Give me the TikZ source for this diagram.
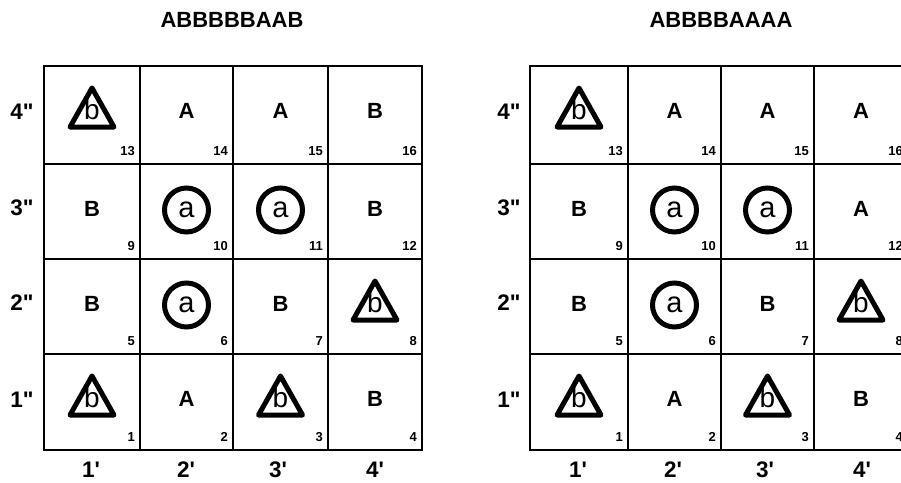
\documentclass[tikz,border=0pt]{standalone}
\usepackage{fontspec}
\setmainfont{Liberation Sans}[Ligatures=TeXOff]
\tikzset{
  gridline/.style={line width=1.3pt},
  letter/.style={font=\bfseries\fontsize{22}{22}\selectfont, inner sep=0pt},
  cnum/.style={font=\bfseries\fontsize{13}{13}\selectfont, anchor=east, inner sep=0pt},
  axislbl/.style={font=\bfseries\fontsize{22.5}{22.5}\selectfont, inner sep=0pt},
  ttl/.style={font=\bfseries\fontsize{22}{22}\selectfont, inner sep=0pt},
  ring/.style={circle, draw, line width=5pt, minimum size=44pt, inner sep=0pt, font=\fontsize{29}{29}\selectfont},
  tri/.style={line width=5pt, line join=round},
  tletter/.style={font=\fontsize{28}{28}\selectfont, inner sep=0pt},
}
% #1 name, #2 cx, #3 top, #4 right, #5 bottom, #6 content, #7 number
\newcommand\lcell[7]{%
  \node[letter] (#1) at (#2,#3+45) {#6};
  \node[cnum] (#1n) at (#4-5,#5-13) {#7};}
\newcommand\rcell[7]{%
  \node[ring] (#1) at (#2,#3+46) {#6};
  \node[cnum] (#1n) at (#4-5,#5-13) {#7};}
\newcommand\tcell[7]{%
  \node[tletter] (#1) at (#2,#3+43) {#6};
  \draw[tri] (#2,#3+22) -- (#2+22,#3+61) -- (#2-22,#3+61) -- cycle;
  \node[cnum] (#1n) at (#4-5,#5-13) {#7};}
\begin{document}
\begin{tikzpicture}[x=1pt,y=-1pt]
\useasboundingbox (0,0) rectangle (901,482);
\clip (0,0) rectangle (901,482);
% titles
\node[ttl] (t1) at (232,20) {ABBBBBAAB};
\node[ttl] (t2) at (721,20) {ABBBBAAAA};
% ---------- left grid ----------
\draw[gridline] (44,66) rectangle (422,450);
\foreach \xx in {140,233,328} \draw[gridline] (\xx,66) -- (\xx,450);
\foreach \yy in {164,259,354} \draw[gridline] (44,\yy) -- (422,\yy);
% row 4''
\tcell{L13}{92}{66}{140}{164}{b}{13}
\lcell{L14}{186.5}{66}{233}{164}{A}{14}
\lcell{L15}{280.5}{66}{328}{164}{A}{15}
\lcell{L16}{375}{66}{422}{164}{B}{16}
% row 3''
\lcell{L9}{92}{164}{140}{259}{B}{9}
\rcell{L10}{186.5}{164}{233}{259}{a}{10}
\rcell{L11}{280.5}{164}{328}{259}{a}{11}
\lcell{L12}{375}{164}{422}{259}{B}{12}
% row 2''
\lcell{L5}{92}{259}{140}{354}{B}{5}
\rcell{L6}{186.5}{259}{233}{354}{a}{6}
\lcell{L7}{280.5}{259}{328}{354}{B}{7}
\tcell{L8}{375}{259}{422}{354}{b}{8}
% row 1''
\tcell{L1}{92}{354}{140}{450}{b}{1}
\lcell{L2}{186.5}{354}{233}{450}{A}{2}
\tcell{L3}{280.5}{354}{328}{450}{b}{3}
\lcell{L4}{375}{354}{422}{450}{B}{4}
% axis labels
\node[axislbl] (lr4) at (22,112) {4"};
\node[axislbl] (lr3) at (22,208) {3"};
\node[axislbl] (lr2) at (22,303) {2"};
\node[axislbl] (lr1) at (22,400) {1"};
\node[axislbl] (lc1) at (91,470) {1'};
\node[axislbl] (lc2) at (186,470) {2'};
\node[axislbl] (lc3) at (278,470) {3'};
\node[axislbl] (lc4) at (375,470) {4'};
% ---------- right grid ----------
\draw[gridline] (530,66) rectangle (908,450);
\foreach \xx in {628,721,814} \draw[gridline] (\xx,66) -- (\xx,450);
\foreach \yy in {164,259,354} \draw[gridline] (530,\yy) -- (908,\yy);
% row 4''
\tcell{R13}{579}{66}{628}{164}{b}{13}
\lcell{R14}{674.5}{66}{721}{164}{A}{14}
\lcell{R15}{767.5}{66}{814}{164}{A}{15}
\lcell{R16}{861}{66}{908}{164}{A}{16}
% row 3''
\lcell{R9}{579}{164}{628}{259}{B}{9}
\rcell{R10}{674.5}{164}{721}{259}{a}{10}
\rcell{R11}{767.5}{164}{814}{259}{a}{11}
\lcell{R12}{861}{164}{908}{259}{A}{12}
% row 2''
\lcell{R5}{579}{259}{628}{354}{B}{5}
\rcell{R6}{674.5}{259}{721}{354}{a}{6}
\lcell{R7}{767.5}{259}{814}{354}{B}{7}
\tcell{R8}{861}{259}{908}{354}{b}{8}
% row 1''
\tcell{R1}{579}{354}{628}{450}{b}{1}
\lcell{R2}{674.5}{354}{721}{450}{A}{2}
\tcell{R3}{767.5}{354}{814}{450}{b}{3}
\lcell{R4}{861}{354}{908}{450}{B}{4}
% axis labels
\node[axislbl] (rr4) at (509,112) {4"};
\node[axislbl] (rr3) at (509,208) {3"};
\node[axislbl] (rr2) at (509,303) {2"};
\node[axislbl] (rr1) at (509,400) {1"};
\node[axislbl] (rc1) at (578,470) {1'};
\node[axislbl] (rc2) at (673,470) {2'};
\node[axislbl] (rc3) at (765,470) {3'};
\node[axislbl] (rc4) at (862,470) {4'};
\end{tikzpicture}
\end{document}
